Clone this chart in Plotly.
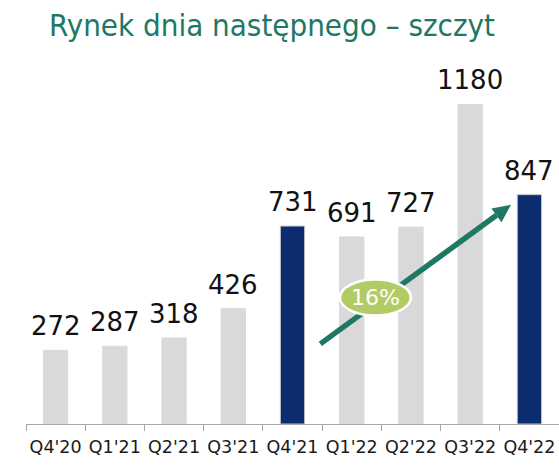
import math
import plotly.graph_objects as go

# Day-ahead market peak volume per quarter
quarters = ["Q4'20", "Q1'21", "Q2'21", "Q3'21", "Q4'21", "Q1'22", "Q2'22", "Q3'22", "Q4'22"]
peak = [272, 287, 318, 426, 731, 691, 727, 1180, 847]
highlight = [False, False, False, False, True, False, False, False, True]
growth_label = "16%"
title_text = "Rynek dnia następnego – szczyt"

W, H = 559, 467
M = dict(l=26, r=0, t=72, b=43)
YMAX = 1300

GRAY = "#D9D9D9"
NAVY = "#0B2C6E"
TEAL = "#1E7864"
OLIVE = "#B2CB64"
TITLE_FONT = "DejaVu Sans Condensed, DejaVu Sans, sans-serif"
NUM_FONT = "DejaVu Sans, sans-serif"

# pixel size of one unit on each axis
px_x = (W - M["l"] - M["r"]) / len(quarters)
px_y = (H - M["t"] - M["b"]) / YMAX

colors = [NAVY if h else GRAY for h in highlight]
line_colors = ["#C4C4C4" if h else GRAY for h in highlight]

fig = go.Figure(
    go.Bar(
        x=quarters,
        y=peak,
        width=0.41,
        marker=dict(color=colors, line=dict(color=line_colors, width=1)),
        hoverinfo="x+y",
    )
)

# value labels above the bars
for q, v in zip(quarters, peak):
    fig.add_annotation(
        x=q, y=v, text=str(v), showarrow=False, yanchor="bottom", yshift=7,
        font=dict(family=NUM_FONT, size=26, color="#111111"),
    )

# trend arrow (shaft + head), then the growth badge on top of it
tail = (4.47, 296)
tip = (7.69, 810)
dxp = (tip[0] - tail[0]) * px_x
dyp = (tip[1] - tail[1]) * px_y
L = math.hypot(dxp, dyp)
ux, uy = dxp / L, dyp / L
nx, ny = -uy, ux
head_len, head_half = 18, 8.5


def off(p, ax, ay):
    return (p[0] + ax / px_x, p[1] + ay / px_y)


base = off(tip, -head_len * ux, -head_len * uy)
c1 = off(base, head_half * nx, head_half * ny)
c2 = off(base, -head_half * nx, -head_half * ny)

fig.add_shape(type="line", x0=tail[0], y0=tail[1], x1=base[0], y1=base[1],
              line=dict(color=TEAL, width=5.5), layer="above")
fig.add_shape(type="path",
              path=f"M{tip[0]},{tip[1]} L{c1[0]},{c1[1]} L{c2[0]},{c2[1]} Z",
              fillcolor=TEAL, line=dict(width=0), layer="above")

badge = (5.40, 467)
rx, ry = 35.5 / px_x, 18 / px_y
fig.add_shape(type="circle", x0=badge[0] - rx, x1=badge[0] + rx,
              y0=badge[1] - ry, y1=badge[1] + ry,
              fillcolor=OLIVE, line=dict(color="white", width=2.5), layer="above")
fig.add_annotation(x=badge[0], y=badge[1], text=growth_label, showarrow=False,
                   font=dict(family=NUM_FONT, size=22, color="white"))

fig.update_layout(
    width=W, height=H, margin=M,
    paper_bgcolor="white", plot_bgcolor="white",
    showlegend=False,
    title=dict(text=title_text, x=272 / W, xanchor="center",
               y=1 - 25 / H, yanchor="middle",
               font=dict(family=TITLE_FONT, size=31, color=TEAL)),
    xaxis=dict(
        type="category", tickson="boundaries", ticks="outside", ticklen=6,
        tickcolor="#A6A6A6", showline=True, linecolor="#A6A6A6", linewidth=1,
        showgrid=False, tickangle=0, automargin=False, ticklabelstandoff=7,
        tickfont=dict(family="DejaVu Sans", size=17.5, color="#1A1A1A"),
        range=[-0.5, 8.5],
    ),
    yaxis=dict(range=[0, YMAX], visible=False, showgrid=False, zeroline=False),
)

fig.write_html("out.html")
